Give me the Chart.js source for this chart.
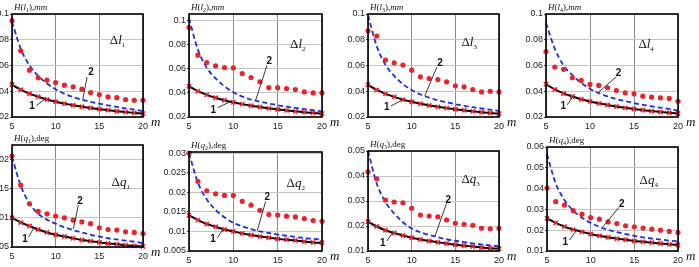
<!DOCTYPE html>
<html>
<head>
<meta charset="utf-8">
<script src="https://cdn.jsdelivr.net/npm/chart.js@4"></script>
<style>
body { margin:0; width:699px; height:267px; overflow:hidden; background:#fff; position:relative; }
canvas { position:absolute; }
</style>
</head>
<body>
<script>
// number of parameters m (x axis)
const mValues = [5,6,7,8,9,10,11,12,13,14,15,16,17,18,19,20]
const xTicks = [5,10,15,20]

// red dots, black curve 1 (with crosses), blue dashed curve 2
const dl1Exp = [0.0948,0.0714,0.0564,0.0504,0.0486,0.0468,0.0447,0.0434,0.0416,0.039,0.0374,0.0356,0.035,0.0335,0.033,0.033]
const dl1Curve1 = [0.0452,0.0412,0.0381,0.0357,0.0336,0.0319,0.0304,0.0291,0.028,0.027,0.0261,0.0253,0.0245,0.0238,0.0232,0.0226]
const dl1Curve2 = [0.094,0.073,0.060,0.052,0.046,0.0415,0.038,0.0355,0.0335,0.0318,0.0303,0.029,0.0278,0.0267,0.0257,0.0245]

const dl2Exp = [0.0944,0.0714,0.0653,0.0625,0.0611,0.0608,0.0561,0.0528,0.0492,0.0444,0.0444,0.0436,0.0428,0.0408,0.04,0.04]
const dl2Curve1 = [0.0456,0.0415,0.0384,0.036,0.0339,0.0322,0.0307,0.0294,0.0283,0.0272,0.0263,0.0255,0.0247,0.024,0.0234,0.0228]
const dl2Curve2 = [0.102,0.076,0.061,0.052,0.0455,0.0405,0.037,0.0345,0.0327,0.0312,0.0298,0.0286,0.0275,0.0265,0.0256,0.0247]

const dl3Exp = [0.087,0.0829,0.0642,0.0621,0.0603,0.0564,0.0512,0.0499,0.0491,0.0473,0.0442,0.0434,0.0413,0.0395,0.04,0.0395]
const dl3Curve1 = [0.045,0.041,0.038,0.0356,0.0335,0.0318,0.0303,0.029,0.0279,0.0269,0.026,0.0252,0.0244,0.0237,0.0231,0.0226]
const dl3Curve2 = [0.099,0.075,0.0605,0.052,0.0455,0.041,0.0375,0.035,0.033,0.0314,0.0299,0.0287,0.0276,0.0266,0.0257,0.0248]

const dl4Exp = [0.0708,0.0588,0.057,0.0505,0.0484,0.0453,0.0445,0.0427,0.0406,0.0388,0.038,0.0362,0.0354,0.0349,0.0344,0.0322]
const dl4Curve1 = [0.0455,0.0414,0.0383,0.0359,0.0338,0.0321,0.0306,0.0293,0.0282,0.0271,0.0262,0.0254,0.0246,0.0239,0.0233,0.0227]
const dl4Curve2 = [0.093,0.073,0.060,0.0525,0.0465,0.042,0.0385,0.036,0.034,0.0323,0.0308,0.0295,0.0283,0.0272,0.0262,0.025]

const dq1Exp = [0.0206,0.0156,0.0124,0.0111,0.0107,0.0103,0.01,0.0096,0.0093,0.009,0.0083,0.008,0.0079,0.0076,0.0075,0.0073]
const dq1Curve1 = [0.01,0.0092,0.0086,0.008,0.0075,0.0071,0.0068,0.0065,0.0062,0.006,0.0058,0.0056,0.0055,0.0053,0.0052,0.0051]
const dq1Curve2 = [0.0205,0.0155,0.0125,0.0107,0.0097,0.009,0.0084,0.0079,0.0075,0.0071,0.0068,0.0065,0.0063,0.0061,0.0059,0.0057]

const dq2Exp = [0.03,0.0228,0.0204,0.0196,0.0192,0.0192,0.0177,0.0167,0.0154,0.0143,0.0142,0.0139,0.0137,0.0133,0.0128,0.0126]
const dq2Curve1 = [0.0141,0.0129,0.0119,0.0112,0.0105,0.01,0.0095,0.0091,0.0087,0.0084,0.0081,0.0079,0.0077,0.0074,0.0072,0.0071]
const dq2Curve2 = [0.03,0.0225,0.0182,0.0155,0.0136,0.0122,0.0113,0.0106,0.01,0.0096,0.0092,0.0089,0.0086,0.0083,0.0081,0.0079]

const dq3Exp = [0.0417,0.0389,0.0304,0.0296,0.0293,0.0271,0.0244,0.024,0.0237,0.0224,0.0211,0.0207,0.0203,0.0191,0.0189,0.0191]
const dq3Curve1 = [0.0217,0.0198,0.0183,0.0172,0.0162,0.0153,0.0146,0.014,0.0135,0.013,0.0125,0.0121,0.0118,0.0114,0.0111,0.0109]
const dq3Curve2 = [0.05,0.037,0.0296,0.025,0.0215,0.019,0.0175,0.0164,0.0155,0.0147,0.0141,0.0135,0.013,0.0126,0.0122,0.0119]

const dq4Exp = [0.0403,0.0337,0.0321,0.0294,0.0277,0.0261,0.0253,0.024,0.0232,0.0221,0.0216,0.021,0.0205,0.02,0.0194,0.0189]
const dq4Curve1 = [0.0257,0.0235,0.0217,0.0203,0.0192,0.0182,0.0173,0.0166,0.0159,0.0154,0.0148,0.0144,0.014,0.0136,0.0132,0.0129]
const dq4Curve2 = [0.0565,0.0425,0.0345,0.0295,0.026,0.0235,0.0216,0.0202,0.0191,0.0181,0.0173,0.0166,0.016,0.0155,0.015,0.0146]

// y tick labels
const lTicks = ['0.02','0.04','0.06','0.08','0.1']
const q1Ticks = ['0.005','0.01','0.015','0.02']
const q2Ticks = ['0.005','0.01','0.015','0.02','0.025','0.03']
const q3Ticks = ['0.01','0.02','0.03','0.04','0.05']
const q4Ticks = ['0.01','0.02','0.03','0.04','0.05','0.06']

const SERIF = "'Liberation Serif', 'DejaVu Serif', serif"
const SANS = "'Liberation Sans', Arial, sans-serif"

const panels = [
    {box:[12,14,143,117], y:[0.02,0.1], ticks:lTicks, sym:'l', idx:'1', unit:'mm', exp:dl1Exp, c1:dl1Curve1, c2:dl1Curve2,
     delta:[16.2,0.08], lab2:[14.05,0.055], lead2:[13.6,0.051,13.1,0.0335], lab1:[7.3,0.028], lead1:[7.8,0.029,8.8,0.034]},
    {box:[189,14,322,117], y:[0.02,0.1056], ticks:lTicks, sym:'l', idx:'2', unit:'mm', exp:dl2Exp, c1:dl2Curve1, c2:dl2Curve2,
     delta:[16.4,0.081], lab2:[14.05,0.0664], lead2:[13.8,0.063,12.5,0.0335], lab1:[7.75,0.0256], lead1:[8.25,0.0278,9.6,0.0325]},
    {box:[368,14,499,117], y:[0.02,0.1], ticks:lTicks, sym:'l', idx:'3', unit:'mm', exp:dl3Exp, c1:dl3Curve1, c2:dl3Curve2,
     delta:[15.7,0.0785], lab2:[13.24,0.0616], lead2:[12.9,0.059,11.5,0.0365], lab1:[7.16,0.0273], lead1:[7.6,0.0285,9,0.0335]},
    {box:[546,14,678,117], y:[0.02,0.1], ticks:lTicks, sym:'l', idx:'4', unit:'mm', exp:dl4Exp, c1:dl4Curve1, c2:dl4Curve2,
     delta:[15.5,0.077], lab2:[13.24,0.0539], lead2:[13,0.0513,11,0.0395], lab1:[6.97,0.0283], lead1:[7.4,0.0294,8.1,0.036]},
    {box:[12,145,143,247], y:[0.005,0.0225], ticks:q1Ticks, sym:'q', idx:'1', unit:'deg', exp:dq1Exp, c1:dq1Curve1, c2:dq1Curve2,
     delta:[16.4,0.0162], lab2:[12.8,0.0129], lead2:[12.6,0.0122,12.03,0.0081], lab1:[6.5,0.0063], lead1:[6.9,0.0067,7.5,0.0083]},
    {box:[189,152,322,251], y:[0.005,0.0303], ticks:q2Ticks, sym:'q', idx:'2', unit:'deg', exp:dq2Exp, c1:dq2Curve1, c2:dq2Curve2,
     delta:[16,0.0224], lab2:[13.84,0.0187], lead2:[13.65,0.0177,12.7,0.0102], lab1:[7.72,0.008], lead1:[8.2,0.0084,8.85,0.0106]},
    {box:[368,151,499,251], y:[0.01,0.05], ticks:q3Ticks, sym:'q', idx:'3', unit:'deg', exp:dq3Exp, c1:dq3Curve1, c2:dq3Curve2,
     delta:[15.7,0.0387], lab2:[14.2,0.0304], lead2:[14,0.0291,12.67,0.016], lab1:[6.7,0.0131], lead1:[7.16,0.014,7.85,0.0176]},
    {box:[547,147,678,251], y:[0.01,0.06], ticks:q4Ticks, sym:'q', idx:'4', unit:'deg', exp:dq4Exp, c1:dq4Curve1, c2:dq4Curve2,
     delta:[15.6,0.0439], lab2:[13.55,0.0326], lead2:[13.24,0.031,11.38,0.0215], lab1:[7.09,0.0144], lead1:[7.58,0.0153,8.3,0.0195]}
]

function points(values) {
    return values.map((v, i) => ({x: mValues[i], y: v}))
}

// draw a row of text pieces with different fonts, returns end x
function drawRuns(ctx, x, y, runs) {
    ctx.textAlign = 'left'
    ctx.textBaseline = 'alphabetic'
    for (const r of runs) {
        ctx.font = r[1]
        ctx.fillText(r[0], x, y + (r[2] || 0))
        x += ctx.measureText(r[0]).width
    }
    return x
}

function makeNotes(p) {
    return {
        id: 'notes',
        afterDatasetsDraw(chart) {
            const ctx = chart.ctx, a = chart.chartArea
            const xs = chart.scales.x, ys = chart.scales.y
            const px = m => xs.getPixelForValue(m)
            const py = v => ys.getPixelForValue(v)
            ctx.save()
            ctx.strokeStyle = '#000'
            ctx.lineWidth = 1.6
            ctx.strokeRect(a.left, a.top, a.right - a.left, a.bottom - a.top)

            // leader lines
            ctx.strokeStyle = '#222'
            ctx.lineWidth = 0.9
            for (const l of [p.lead1, p.lead2]) {
                ctx.beginPath()
                ctx.moveTo(px(l[0]), py(l[1]))
                ctx.lineTo(px(l[2]), py(l[3]))
                ctx.stroke()
            }
            ctx.fillStyle = '#111'
            ctx.font = 'bold 10px ' + SANS
            ctx.textAlign = 'center'
            ctx.textBaseline = 'middle'
            ctx.fillText('1', px(p.lab1[0]), py(p.lab1[1]))
            ctx.fillText('2', px(p.lab2[0]), py(p.lab2[1]))

            // delta label
            drawRuns(ctx, px(p.delta[0]), py(p.delta[1]) + 4, [
                ['\u0394', '13px ' + SERIF],
                [p.sym, 'italic 13px ' + SERIF],
                [p.idx, '7px ' + SERIF, 3]
            ])

            // axis title
            const unitFont = p.unit == 'mm' ? 'italic 9px ' + SERIF : '9px ' + SERIF
            drawRuns(ctx, a.left + 2, a.top - 4, [
                ['H', 'italic 9px ' + SERIF],
                ['(', '9px ' + SERIF],
                [p.sym, 'italic 9px ' + SERIF],
                [p.idx, '6px ' + SERIF, 2],
                ['),', '9px ' + SERIF],
                [p.unit, unitFont]
            ])

            // m label
            ctx.font = 'italic 13px ' + SERIF
            ctx.textAlign = 'left'
            ctx.textBaseline = 'middle'
            ctx.fillText('m', a.right + 8, a.bottom + 6)
            ctx.restore()
        }
    }
}

function makePanel(p) {
    const padL = 40, padT = 16, padR = 24, padB = 16
    const w = p.box[2] - p.box[0] + padL + padR
    const h = p.box[3] - p.box[1] + padT + padB
    const canvas = document.createElement('canvas')
    canvas.width = w
    canvas.height = h
    canvas.style.left = (p.box[0] - padL) + 'px'
    canvas.style.top = (p.box[1] - padT) + 'px'
    canvas.style.width = w + 'px'
    canvas.style.height = h + 'px'
    document.body.appendChild(canvas)

    const yTickValues = p.ticks.map(t => parseFloat(t))

    new Chart(canvas, {
        type: 'line',
        data: {
            datasets: [
                {
                    label: 'curve 1',
                    data: points(p.c1),
                    borderColor: '#000',
                    borderWidth: 2,
                    pointRadius: 0,
                    cubicInterpolationMode: 'monotone',
                    clip: false,
                    order: 4
                },
                {
                    label: 'curve 2',
                    data: points(p.c2),
                    borderColor: '#1f2fd6',
                    borderWidth: 1.8,
                    borderDash: [5, 3],
                    pointRadius: 0,
                    cubicInterpolationMode: 'monotone',
                    clip: false,
                    order: 3
                },
                {
                    label: 'model',
                    data: points(p.c1),
                    showLine: false,
                    pointStyle: 'crossRot',
                    pointRadius: 3,
                    borderColor: '#e8232b',
                    borderWidth: 1.6,
                    clip: false,
                    order: 2
                },
                {
                    label: 'experiment',
                    data: points(p.exp),
                    showLine: false,
                    pointRadius: 2.6,
                    pointBorderWidth: 0,
                    backgroundColor: '#e8232b',
                    borderColor: '#e8232b',
                    clip: false,
                    order: 1
                }
            ]
        },
        options: {
            responsive: false,
            animation: false,
            devicePixelRatio: 1,
            layout: {padding: {left: 0, top: padT, right: padR, bottom: 0}},
            plugins: {legend: {display: false}, tooltip: {enabled: false}},
            scales: {
                x: {
                    type: 'linear',
                    min: 5,
                    max: 20,
                    afterBuildTicks: s => { s.ticks = xTicks.map(v => ({value: v})) },
                    afterFit: s => { s.height = padB },
                    grid: {color: '#8a8a8a', lineWidth: 1, drawTicks: false},
                    border: {display: false},
                    ticks: {font: {family: SANS, size: 9}, color: '#222', padding: 4, maxRotation: 0}
                },
                y: {
                    type: 'linear',
                    min: p.y[0],
                    max: p.y[1],
                    afterBuildTicks: s => { s.ticks = yTickValues.map(v => ({value: v})) },
                    afterFit: s => { s.width = padL },
                    grid: {color: '#c4c4c4', lineWidth: 1, tickLength: 2, tickColor: '#333'},
                    border: {display: false},
                    ticks: {
                        font: {family: SANS, size: 9},
                        color: '#222',
                        padding: 1,
                        callback: (v, i) => p.ticks[i]
                    }
                }
            }
        },
        plugins: [makeNotes(p)]
    })
}

panels.forEach(makePanel)
</script>
</body>
</html>
